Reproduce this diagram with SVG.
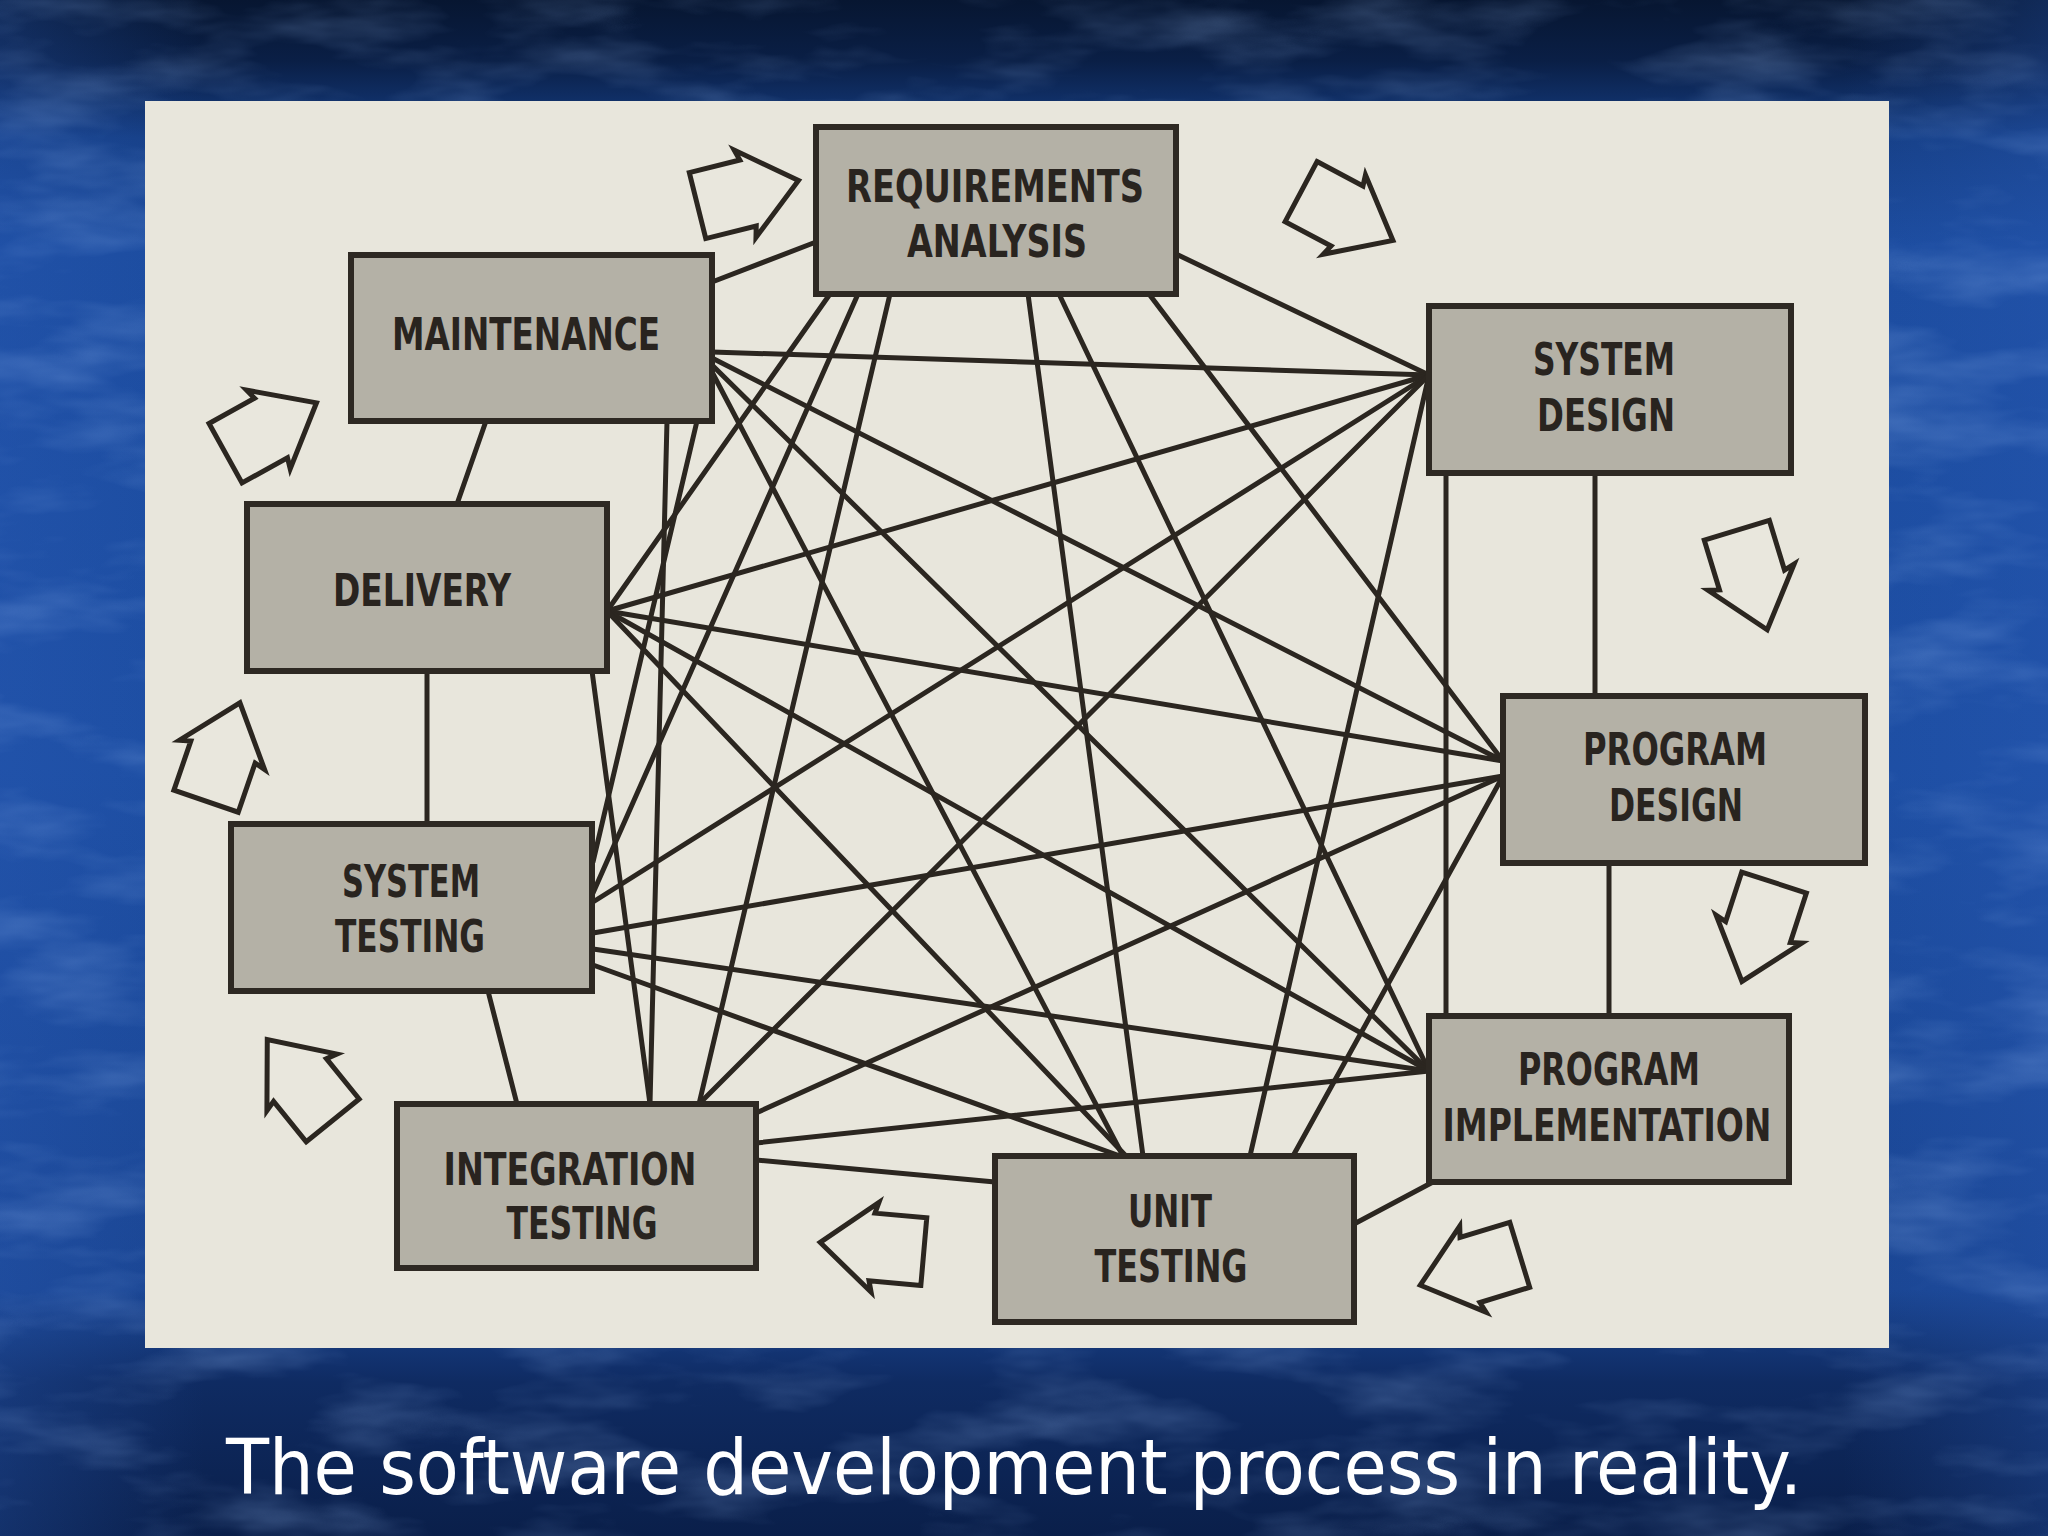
<svg xmlns="http://www.w3.org/2000/svg" xmlns:xlink="http://www.w3.org/1999/xlink" width="2048" height="1536" viewBox="0 0 2048 1536">
  <defs>
    <linearGradient id="bgGrad" x1="0" y1="0" x2="0" y2="1">
      <stop offset="0" stop-color="#071631"/>
      <stop offset="0.04" stop-color="#0a1f46"/>
      <stop offset="0.09" stop-color="#163f86"/>
      <stop offset="0.16" stop-color="#1c4c9f"/>
      <stop offset="0.5" stop-color="#1d4ea3"/>
      <stop offset="0.84" stop-color="#1a4592"/>
      <stop offset="0.9" stop-color="#0f2b62"/>
      <stop offset="1" stop-color="#0a1f4a"/>
    </linearGradient>
    <linearGradient id="sideGrad" x1="0" y1="0" x2="1" y2="0">
      <stop offset="0" stop-color="#2a5cb8" stop-opacity="0.3"/>
      <stop offset="0.1" stop-color="#2a5cb8" stop-opacity="0"/>
      <stop offset="0.9" stop-color="#2a5cb8" stop-opacity="0"/>
      <stop offset="1" stop-color="#2a5cb8" stop-opacity="0.3"/>
    </linearGradient>
    <filter id="marble" x="0" y="0" width="100%" height="100%">
      <feTurbulence type="fractalNoise" baseFrequency="0.006 0.02" numOctaves="4" seed="7"/>
      <feColorMatrix type="matrix" values="0 0 0 0 0.35  0 0 0 0 0.55  0 0 0 0 0.95  2.0 0 0 0 -0.9"/>
    </filter>
    <path id="blockArrow" d="M -52,-34 L 0,-34 L -3,-45 L 52,0 L -3,45 L 0,34 L -52,34 Z"/>
    <style>
      .box { fill: #b4b1a6; stroke: #2e2923; stroke-width: 6; }
      .lbl { font-family: "DejaVu Sans Condensed", "DejaVu Sans", "Liberation Sans", sans-serif; font-weight: bold; font-size: 45px; fill: #29241f; text-anchor: middle; }
      .conn line { stroke: #2b2620; stroke-width: 5; stroke-linecap: round; }
      .flow use { fill: #e9e7dd; stroke: #2b2620; stroke-width: 5; stroke-linejoin: miter; }
      .caption { font-family: "DejaVu Sans Condensed", "DejaVu Sans", "Liberation Sans", sans-serif; font-size: 76px; fill: #ffffff; text-anchor: middle; }
    </style>
  </defs>

  <!-- slide background -->
  <rect x="0" y="0" width="2048" height="1536" fill="url(#bgGrad)"/>
  <rect x="0" y="0" width="2048" height="1536" fill="url(#sideGrad)"/>
  <rect x="0" y="0" width="2048" height="1536" filter="url(#marble)" opacity="0.28"/>

  <!-- paper -->
  <rect x="145" y="101" width="1744" height="1247" fill="#e8e6dc"/>

  <!-- connectors -->
  <g id="connectors" class="conn">
    <!-- perimeter -->
    <line x1="816" y1="242" x2="712" y2="282"/>
    <line x1="486" y1="421" x2="457" y2="504"/>
    <line x1="427" y1="671" x2="427" y2="824"/>
    <line x1="488" y1="991" x2="517" y2="1104"/>
    <line x1="756" y1="1160" x2="995" y2="1182"/>
    <line x1="1354" y1="1224" x2="1433" y2="1182"/>
    <line x1="1609" y1="863" x2="1609" y2="1016"/>
    <line x1="1595" y1="473" x2="1595" y2="696"/>
    <line x1="1176" y1="254" x2="1429" y2="375"/>
    <!-- from requirements analysis -->
    <line x1="830" y1="294" x2="607" y2="611"/>
    <line x1="858" y1="294" x2="593" y2="893"/>
    <line x1="890" y1="294" x2="699" y2="1104"/>
    <line x1="1028" y1="294" x2="1143" y2="1156"/>
    <line x1="1059" y1="294" x2="1429" y2="1071"/>
    <line x1="1149" y1="294" x2="1503" y2="761"/>
    <!-- from maintenance -->
    <line x1="712" y1="352" x2="1429" y2="375"/>
    <line x1="712" y1="358" x2="1503" y2="761"/>
    <line x1="712" y1="365" x2="1429" y2="1071"/>
    <line x1="712" y1="372" x2="1123" y2="1156"/>
    <line x1="697" y1="421" x2="593" y2="862"/>
    <line x1="667" y1="421" x2="650" y2="1104"/>
    <!-- from delivery -->
    <line x1="607" y1="611" x2="1429" y2="375"/>
    <line x1="607" y1="611" x2="1503" y2="761"/>
    <line x1="607" y1="611" x2="1429" y2="1071"/>
    <line x1="607" y1="611" x2="1126" y2="1156"/>
    <line x1="592" y1="671" x2="650" y2="1104"/>
    <!-- from system design -->
    <line x1="1429" y1="375" x2="593" y2="902"/>
    <line x1="1429" y1="375" x2="699" y2="1104"/>
    <line x1="1429" y1="375" x2="1250" y2="1156"/>
    <line x1="1446" y1="473" x2="1446" y2="1016"/>
    <!-- from program design -->
    <line x1="1503" y1="776" x2="593" y2="933"/>
    <line x1="1503" y1="776" x2="756" y2="1113"/>
    <line x1="1503" y1="776" x2="1293" y2="1156"/>
    <!-- from system testing -->
    <line x1="593" y1="949" x2="1429" y2="1071"/>
    <line x1="593" y1="965" x2="1120" y2="1156"/>
    <!-- from integration testing -->
    <line x1="756" y1="1143" x2="1429" y2="1071"/>
  </g>

  <!-- nodes -->
  <g id="node-requirements-analysis">
    <rect class="box" x="816" y="127" width="360" height="167"/>
    <text class="lbl" x="995" y="202" textLength="298" lengthAdjust="spacingAndGlyphs">REQUIREMENTS</text>
    <text class="lbl" x="997" y="257" textLength="180" lengthAdjust="spacingAndGlyphs">ANALYSIS</text>
  </g>
  <g id="node-maintenance">
    <rect class="box" x="351" y="255" width="361" height="166"/>
    <text class="lbl" x="526" y="350" textLength="268" lengthAdjust="spacingAndGlyphs">MAINTENANCE</text>
  </g>
  <g id="node-system-design">
    <rect class="box" x="1429" y="306" width="362" height="167"/>
    <text class="lbl" x="1604" y="375" textLength="142" lengthAdjust="spacingAndGlyphs">SYSTEM</text>
    <text class="lbl" x="1606" y="431" textLength="138" lengthAdjust="spacingAndGlyphs">DESIGN</text>
  </g>
  <g id="node-delivery">
    <rect class="box" x="247" y="504" width="360" height="167"/>
    <text class="lbl" x="422" y="606" textLength="178" lengthAdjust="spacingAndGlyphs">DELIVERY</text>
  </g>
  <g id="node-program-design">
    <rect class="box" x="1503" y="696" width="362" height="167"/>
    <text class="lbl" x="1675" y="765" textLength="184" lengthAdjust="spacingAndGlyphs">PROGRAM</text>
    <text class="lbl" x="1676" y="821" textLength="134" lengthAdjust="spacingAndGlyphs">DESIGN</text>
  </g>
  <g id="node-system-testing">
    <rect class="box" x="231" y="824" width="361" height="167"/>
    <text class="lbl" x="411" y="897" textLength="138" lengthAdjust="spacingAndGlyphs">SYSTEM</text>
    <text class="lbl" x="410" y="952" textLength="150" lengthAdjust="spacingAndGlyphs">TESTING</text>
  </g>
  <g id="node-program-implementation">
    <rect class="box" x="1429" y="1016" width="360" height="166"/>
    <text class="lbl" x="1609" y="1085" textLength="182" lengthAdjust="spacingAndGlyphs">PROGRAM</text>
    <text class="lbl" x="1607" y="1141" textLength="329" lengthAdjust="spacingAndGlyphs">IMPLEMENTATION</text>
  </g>
  <g id="node-integration-testing">
    <rect class="box" x="397" y="1104" width="359" height="164"/>
    <text class="lbl" x="570" y="1185" textLength="253" lengthAdjust="spacingAndGlyphs">INTEGRATION</text>
    <text class="lbl" x="582" y="1239" textLength="151" lengthAdjust="spacingAndGlyphs">TESTING</text>
  </g>
  <g id="node-unit-testing">
    <rect class="box" x="995" y="1156" width="359" height="166"/>
    <text class="lbl" x="1170" y="1227" textLength="84" lengthAdjust="spacingAndGlyphs">UNIT</text>
    <text class="lbl" x="1171" y="1282" textLength="153" lengthAdjust="spacingAndGlyphs">TESTING</text>
  </g>

  <!-- cycle arrows -->
  <g id="flow-arrows" class="flow">
    <use xlink:href="#blockArrow" href="#blockArrow" transform="translate(748,193) rotate(-14)"/>
    <use xlink:href="#blockArrow" href="#blockArrow" transform="translate(1347,216) rotate(28)"/>
    <use xlink:href="#blockArrow" href="#blockArrow" transform="translate(1752,580) rotate(73)"/>
    <use xlink:href="#blockArrow" href="#blockArrow" transform="translate(1758,932) rotate(108)"/>
    <use xlink:href="#blockArrow" href="#blockArrow" transform="translate(1470,1270) rotate(163)"/>
    <use xlink:href="#blockArrow" href="#blockArrow" transform="translate(872,1247) rotate(185)"/>
    <use xlink:href="#blockArrow" href="#blockArrow" transform="translate(300,1080) rotate(231)"/>
    <use xlink:href="#blockArrow" href="#blockArrow" transform="translate(223,752) rotate(-71)"/>
    <use xlink:href="#blockArrow" href="#blockArrow" transform="translate(271,428) rotate(-29)"/>
  </g>

  <!-- caption -->
  <text class="caption" x="1014" y="1494" textLength="1576" lengthAdjust="spacingAndGlyphs">The software development process in reality.</text>
</svg>
